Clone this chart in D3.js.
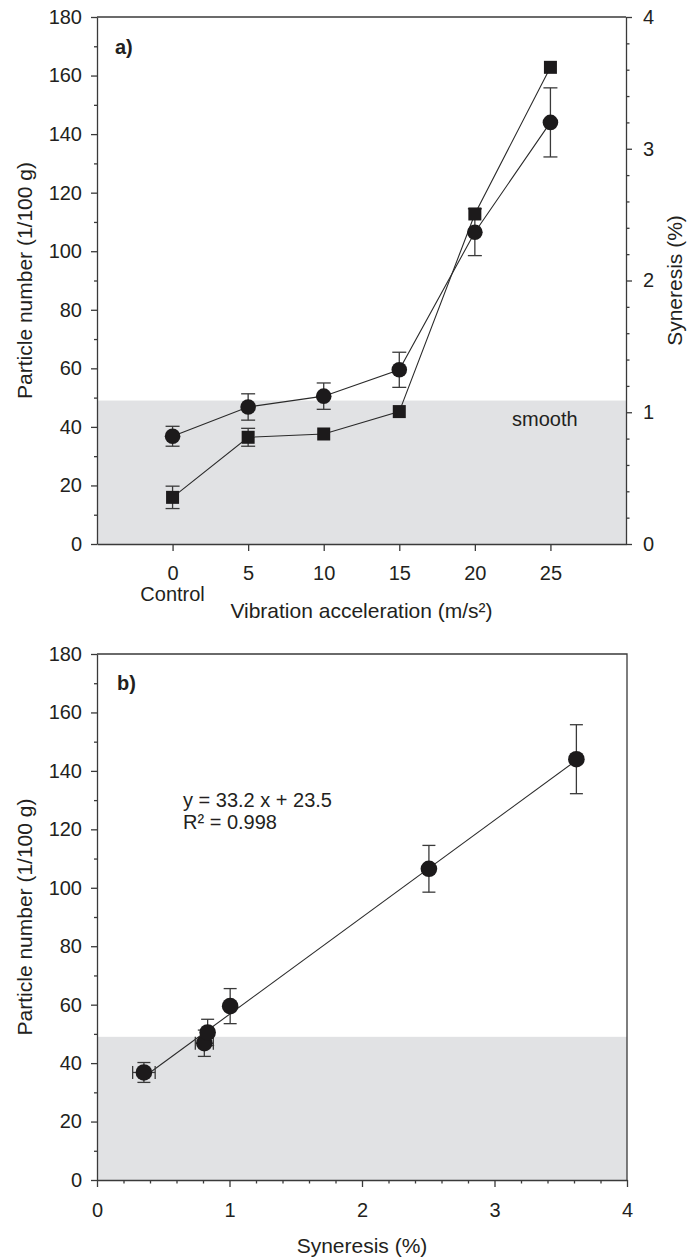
<!DOCTYPE html>
<html>
<head>
<meta charset="utf-8">
<script src="https://cdn.jsdelivr.net/npm/d3@7"></script>
<style>
  body { margin: 0; background: #fff; }
  text { font-family: "Liberation Sans", Arial, sans-serif; fill: #231f20; }
  .axis path, .axis line { stroke: #3a3a3a; stroke-width: 1.3; }
</style>
</head>
<body>
<div id="chart"></div>
<script>

// Data
const accel = [0, 5, 10, 15, 20, 25];                     // m/s²
const particles = [36.8, 46.8, 50.5, 59.5, 106.5, 144];   // 1/100 g
const particleErr = [3.4, 4.5, 4.5, 6, 8, 11.8];
const syneresis = [0.354, 0.81, 0.835, 1.005, 2.505, 3.618]; // %
const syneresisErr = [0.085, 0.068, 0, 0, 0, 0];
const smoothLimit = 49;                                   // grey band top (particles)
const fitSlope = 33.2, fitIntercept = 23.5;

const yTicks = [0, 20, 40, 60, 80, 100, 120, 140, 160, 180];
const yMinor = [10, 30, 50, 70, 90, 110, 130, 150, 170];
const synTicks = [0, 1, 2, 3, 4];
const synMinor = [0.2, 0.4, 0.6, 0.8, 1.2, 1.4, 1.6, 1.8, 2.2, 2.4, 2.6, 2.8, 3.2, 3.4, 3.6, 3.8];

const width = 699, height = 1258;
const intFmt = d3.format("d");

const svg = d3.select("#chart")
    .append("svg")
    .attr("width", width)
    .attr("height", height);

// helper: vertical / horizontal error bars
function errBars(g, pts, cap) {
    pts.forEach(p => {
        if (p.ey) {
            g.append("line").attr("x1", p.x).attr("x2", p.x).attr("y1", p.y1).attr("y2", p.y2);
            g.append("line").attr("x1", p.x - cap).attr("x2", p.x + cap).attr("y1", p.y1).attr("y2", p.y1);
            g.append("line").attr("x1", p.x - cap).attr("x2", p.x + cap).attr("y1", p.y2).attr("y2", p.y2);
        }
        if (p.ex) {
            g.append("line").attr("x1", p.x1).attr("x2", p.x2).attr("y1", p.y).attr("y2", p.y);
            g.append("line").attr("x1", p.x1).attr("x2", p.x1).attr("y1", p.y - cap).attr("y2", p.y + cap);
            g.append("line").attr("x1", p.x2).attr("x2", p.x2).attr("y1", p.y - cap).attr("y2", p.y + cap);
        }
    });
}

/* ---------- panel a ---------- */
const mA = {left: 97, right: 626, top: 17, bottom: 544};

const xA = d3.scaleLinear().domain([-5, 30]).range([mA.left, mA.right]);
const yA = d3.scaleLinear().domain([0, 180]).range([mA.bottom, mA.top]);
const y2A = d3.scaleLinear().domain([0, 4]).range([mA.bottom, mA.top]);

const gA = svg.append("g");

gA.append("rect")
    .attr("x", xA(-5))
    .attr("y", yA(smoothLimit))
    .attr("width", xA(30) - xA(-5))
    .attr("height", yA(0) - yA(smoothLimit))
    .attr("fill", "#e1e2e4");

gA.append("text")
    .attr("x", 512).attr("y", yA(smoothLimit) + 25)
    .attr("font-size", "20px")
    .text("smooth");

// frame top
gA.append("line")
    .attr("x1", mA.left).attr("x2", mA.right)
    .attr("y1", mA.top).attr("y2", mA.top)
    .attr("stroke", "#3a3a3a").attr("stroke-width", 1.3);

// lines
const lineP = d3.line().x((d, i) => xA(accel[i])).y(d => yA(d));
const lineS = d3.line().x((d, i) => xA(accel[i])).y(d => y2A(d));

gA.append("path").datum(particles).attr("d", lineP)
    .attr("fill", "none").attr("stroke", "#2a2a2a").attr("stroke-width", 1.1);
gA.append("path").datum(syneresis).attr("d", lineS)
    .attr("fill", "none").attr("stroke", "#2a2a2a").attr("stroke-width", 1.1);

const ebA = gA.append("g").attr("stroke", "#3a3a3a").attr("stroke-width", 1.3);
errBars(ebA, particles.map((d, i) => ({
    x: xA(accel[i]), ey: true, y1: yA(d + particleErr[i]), y2: yA(d - particleErr[i])
})), 7);
errBars(ebA, syneresis.map((d, i) => ({
    x: xA(accel[i]), ey: syneresisErr[i] > 0,
    y1: y2A(d + syneresisErr[i]), y2: y2A(d - syneresisErr[i])
})), 7);

gA.selectAll(".sq")
    .data(syneresis)
    .enter()
    .append("rect")
    .attr("class", "sq")
    .attr("x", (d, i) => xA(accel[i]) - 6.5)
    .attr("y", d => y2A(d) - 6.5)
    .attr("width", 13).attr("height", 13)
    .attr("fill", "#1c1a1b");

gA.selectAll(".pt")
    .data(particles)
    .enter()
    .append("circle")
    .attr("class", "pt")
    .attr("cx", (d, i) => xA(accel[i]))
    .attr("cy", d => yA(d))
    .attr("r", 7.8)
    .attr("fill", "#1c1a1b");

// axes
gA.append("g").attr("class", "axis")
    .attr("transform", `translate(${mA.left},0)`)
    .call(d3.axisLeft(yA).tickValues(yTicks).tickFormat(intFmt).tickSize(6).tickPadding(9).tickSizeOuter(0))
    .attr("font-size", "20px");
gA.append("g").attr("class", "axis")
    .attr("transform", `translate(${mA.left},0)`)
    .call(d3.axisLeft(yA).tickValues(yMinor).tickSize(3).tickFormat("").tickSizeOuter(0))
    .select(".domain").remove();

gA.append("g").attr("class", "axis")
    .attr("transform", `translate(${mA.right},0)`)
    .call(d3.axisRight(y2A).tickValues(synTicks).tickFormat(intFmt).tickSize(6).tickPadding(11).tickSizeOuter(0))
    .attr("font-size", "20px");
gA.append("g").attr("class", "axis")
    .attr("transform", `translate(${mA.right},0)`)
    .call(d3.axisRight(y2A).tickValues(synMinor).tickSize(3.5).tickFormat("").tickSizeOuter(0))
    .select(".domain").remove();

gA.append("g").attr("class", "axis")
    .attr("transform", `translate(0,${mA.bottom})`)
    .call(d3.axisBottom(xA).tickValues(accel).tickFormat(intFmt).tickSize(7).tickPadding(15).tickSizeOuter(0))
    .attr("font-size", "20px");

gA.selectAll(".axis text").attr("fill", "#231f20");

gA.append("text")
    .attr("x", xA(0)).attr("y", 601)
    .attr("text-anchor", "middle").attr("font-size", "20px")
    .text("Control");

gA.append("text")
    .attr("x", (mA.left + mA.right) / 2).attr("y", 618)
    .attr("text-anchor", "middle").attr("font-size", "21px")
    .text("Vibration acceleration (m/s²)");

gA.append("text")
    .attr("transform", `translate(32,${(mA.top + mA.bottom) / 2}) rotate(-90)`)
    .attr("text-anchor", "middle").attr("font-size", "21px")
    .text("Particle number (1/100 g)");

gA.append("text")
    .attr("transform", `translate(682,${(mA.top + mA.bottom) / 2}) rotate(-90)`)
    .attr("text-anchor", "middle").attr("font-size", "21px")
    .text("Syneresis (%)");

gA.append("text")
    .attr("x", 115).attr("y", 54)
    .attr("font-size", "20px").attr("font-weight", "bold")
    .text("a)");

/* ---------- panel b ---------- */
const mB = {left: 97, right: 627, top: 654, bottom: 1180};

const xB = d3.scaleLinear().domain([0, 4]).range([mB.left, mB.right]);
const yB = d3.scaleLinear().domain([0, 180]).range([mB.bottom, mB.top]);

const gB = svg.append("g");

gB.append("rect")
    .attr("x", xB(0))
    .attr("y", yB(smoothLimit))
    .attr("width", xB(4) - xB(0))
    .attr("height", yB(0) - yB(smoothLimit))
    .attr("fill", "#e1e2e4");

// frame top + right
gB.append("path")
    .attr("d", `M${mB.left},${mB.top}H${mB.right}V${mB.bottom}`)
    .attr("fill", "none").attr("stroke", "#3a3a3a").attr("stroke-width", 1.3);

// regression line over data range
const xFit = d3.extent(syneresis);
gB.append("line")
    .attr("x1", xB(xFit[0])).attr("y1", yB(fitSlope * xFit[0] + fitIntercept))
    .attr("x2", xB(xFit[1])).attr("y2", yB(fitSlope * xFit[1] + fitIntercept))
    .attr("stroke", "#2a2a2a").attr("stroke-width", 1.1);

const ebB = gB.append("g").attr("stroke", "#3a3a3a").attr("stroke-width", 1.3);
errBars(ebB, syneresis.map((d, i) => ({
    x: xB(d), y: yB(particles[i]),
    ey: true, y1: yB(particles[i] + particleErr[i]), y2: yB(particles[i] - particleErr[i]),
    ex: syneresisErr[i] > 0, x1: xB(d - syneresisErr[i]), x2: xB(d + syneresisErr[i])
})), 6.5);

gB.selectAll(".pt")
    .data(syneresis)
    .enter()
    .append("circle")
    .attr("class", "pt")
    .attr("cx", d => xB(d))
    .attr("cy", (d, i) => yB(particles[i]))
    .attr("r", 8.3)
    .attr("fill", "#1c1a1b");

gB.append("g").attr("class", "axis")
    .attr("transform", `translate(${mB.left},0)`)
    .call(d3.axisLeft(yB).tickValues(yTicks).tickFormat(intFmt).tickSize(6).tickPadding(9).tickSizeOuter(0))
    .attr("font-size", "20px");
gB.append("g").attr("class", "axis")
    .attr("transform", `translate(${mB.left},0)`)
    .call(d3.axisLeft(yB).tickValues(yMinor).tickSize(3).tickFormat("").tickSizeOuter(0))
    .select(".domain").remove();

gB.append("g").attr("class", "axis")
    .attr("transform", `translate(0,${mB.bottom})`)
    .call(d3.axisBottom(xB).tickValues(synTicks).tickFormat(intFmt).tickSize(7).tickPadding(16).tickSizeOuter(0))
    .attr("font-size", "20px");
gB.append("g").attr("class", "axis")
    .attr("transform", `translate(0,${mB.bottom})`)
    .call(d3.axisBottom(xB).tickValues(synMinor).tickSize(3.5).tickFormat("").tickSizeOuter(0))
    .select(".domain").remove();

gB.selectAll(".axis text").attr("fill", "#231f20");

gB.append("text")
    .attr("x", (mB.left + mB.right) / 2).attr("y", 1253)
    .attr("text-anchor", "middle").attr("font-size", "21px")
    .text("Syneresis (%)");

gB.append("text")
    .attr("transform", `translate(32,${(mB.top + mB.bottom) / 2}) rotate(-90)`)
    .attr("text-anchor", "middle").attr("font-size", "21px")
    .text("Particle number (1/100 g)");

gB.append("text")
    .attr("x", 117).attr("y", 690)
    .attr("font-size", "20px").attr("font-weight", "bold")
    .text("b)");

gB.append("text")
    .attr("x", 183).attr("y", 807)
    .attr("font-size", "20px")
    .text("y = 33.2 x + 23.5");
gB.append("text")
    .attr("x", 183).attr("y", 829)
    .attr("font-size", "20px")
    .text("R² = 0.998");

</script>
</body>
</html>
